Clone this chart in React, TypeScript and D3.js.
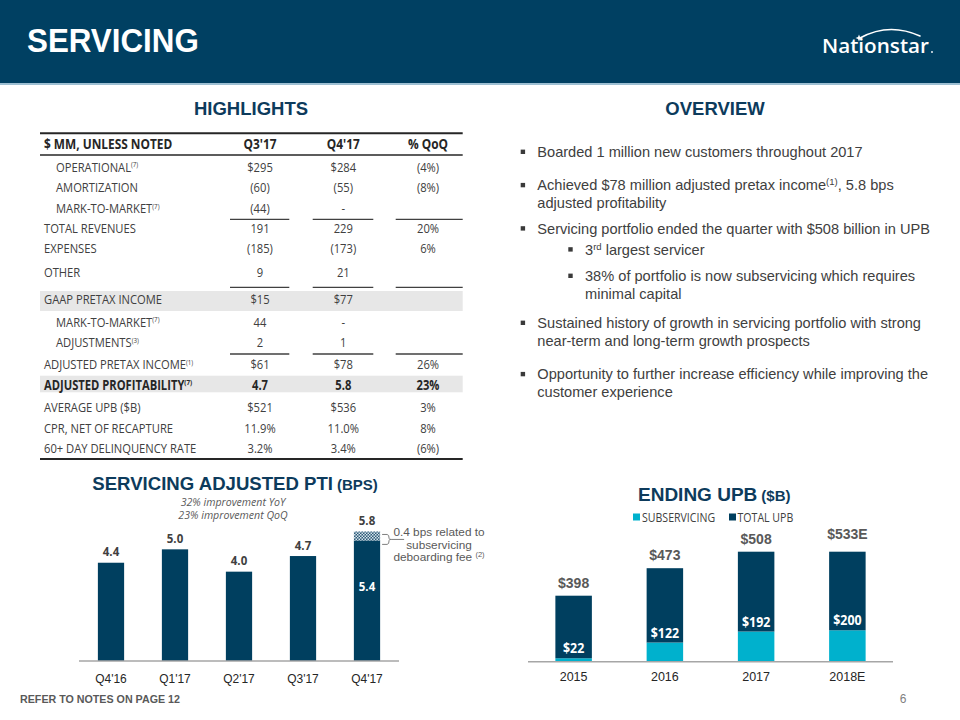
import React from 'react';
import * as d3 from 'd3';

// ---------- DATA ----------
const ptiQuarters = ["Q4'16", "Q1'17", "Q2'17", "Q3'17", "Q4'17"];
const ptiValues = [4.4, 5.0, 4.0, 4.7, 5.8];
const ptiCoreValues = [4.4, 5.0, 4.0, 4.7, 5.4];
const ptiLabels = ["4.4", "5.0", "4.0", "4.7", "5.8"];
const ptiInnerLabels = ["", "", "", "", "5.4"];
const ptiNotes = ["32% improvement YoY", "23% improvement QoQ"];
const ptiFeeNote = ["0.4 bps related to", "subservicing", "deboarding fee ^(2)^"];

const upbYears = ["2015", "2016", "2017", "2018E"];
const upbSubservicing = [22, 122, 192, 200];
const upbTotal = [398, 473, 508, 533];
const upbTotalLabels = ["$398", "$473", "$508", "$533E"];
const upbSubLabels = ["$22", "$122", "$192", "$200"];
const upbAxisMax = 700;
const upbLegend = ["SUBSERVICING", "TOTAL UPB"];

const tableHeaders = ["$ MM, UNLESS NOTED", "Q3'17", "Q4'17", "% QoQ"];
const tableLabels = [
  "OPERATIONAL", "AMORTIZATION", "MARK-TO-MARKET", "TOTAL REVENUES", "EXPENSES", "OTHER",
  "GAAP PRETAX INCOME", "MARK-TO-MARKET", "ADJUSTMENTS", "ADJUSTED PRETAX INCOME",
  "ADJUSTED PROFITABILITY", "AVERAGE UPB ($B)", "CPR, NET OF RECAPTURE", "60+ DAY DELINQUENCY RATE",
];
const tableNotes = ["(7)", "", "(7)", "", "", "", "", "(7)", "(3)", "(1)", "(7)", "", "", ""];
const tableQ3 = ["$295", "(60)", "(44)", "191", "(185)", "9", "$15", "44", "2", "$61", "4.7", "$521", "11.9%", "3.2%"];
const tableQ4 = ["$284", "(55)", "-", "229", "(173)", "21", "$77", "-", "1", "$78", "5.8", "$536", "11.0%", "3.4%"];
const tableQoQ = ["(4%)", "(8%)", "", "20%", "6%", "", "", "", "", "26%", "23%", "3%", "8%", "(6%)"];

const overviewItems = [
  "Boarded 1 million new customers throughout 2017",
  "Achieved $78 million adjusted pretax income^(1)^, 5.8 bps|adjusted profitability",
  "Servicing portfolio ended the quarter with $508 billion in UPB",
  "3^rd^ largest servicer",
  "38% of portfolio is now subservicing which requires|minimal capital",
  "Sustained history of growth in servicing portfolio with strong|near-term and long-term growth prospects",
  "Opportunity to further increase efficiency while improving the|customer experience",
];
const overviewLevels = [0, 0, 0, 1, 1, 0, 0];

// ---------- STYLE ----------
const NAVY = '#003f5f';
const TITLE = '#0d3b5c';
const CYAN = '#00b1cd';
const GREY_TXT = '#404040';
const F_SEGOE = "'Open Sans', sans-serif";
const F_ARIAL = "'Liberation Sans', Arial, sans-serif";

function T({ x, y, sx = 1, children, ...rest }: any) {
  return (
    <text transform={`translate(${x},${y})${sx !== 1 ? ` scale(${sx},1)` : ''}`} {...rest}>
      {children}
    </text>
  );
}

function rich(s: string, supSize: number, rise: number) {
  const parts = s.split('^');
  const out: any[] = [];
  let shifted = false;
  parts.forEach((p, i) => {
    if (i % 2 === 1) {
      out.push(<tspan key={i} fontSize={supSize} dy={-rise}>{p}</tspan>);
      shifted = true;
    } else {
      if (p === '' && !shifted) return;
      out.push(<tspan key={i} dy={shifted ? rise : 0}>{p}</tspan>);
      shifted = false;
    }
  });
  return out;
}

export default function App() {
  // ----- PTI chart scales -----
  const ptiX = d3.scaleBand().domain(ptiQuarters).range([79, 399]).paddingInner(0.59).paddingOuter(0.295);
  const ptiY = d3.scaleLinear().domain([0, 6]).range([661, 527]);

  // ----- UPB chart scales -----
  const upbX = d3.scaleBand().domain(upbYears).range([528, 893]).paddingInner(0.6).paddingOuter(0.3);
  const upbY = d3.scaleLinear().domain([0, upbAxisMax]).range([661.7, 551.7]).clamp(true);
  const upbYFree = upbY.copy().clamp(false);

  // ----- table layout -----
  const rowCenters = [166.7, 187.3, 208.3, 228.3, 247.7, 271.7, 299, 321.7, 342.3, 364.3, 385, 406.7, 427.7, 448.3];
  const indented = new Set([0, 1, 2, 7, 8]);
  const boldRows = new Set([10]);
  const shaded = [[291, 311], [375.7, 392.3]];
  const underlineY = [219.3, 287.3, 354];
  const colCenters = [260, 343.3, 428];
  const colSegs = [[230, 289.3], [312.7, 373.3], [395.7, 462.7]];
  const tSX = 0.83;

  // ----- overview layout -----
  const bulletBaselines = [157, 190.3, 233.6, 254.6, 281, 328, 379.3];
  const lineH = 17.7;

  return (
    <svg width={960} height={720} viewBox="0 0 960 720"
      style={{ position: 'absolute', left: 0, top: 0, display: 'block', background: '#fff' }}>
      <defs>
        <pattern id="fee" width="3" height="3" patternUnits="userSpaceOnUse">
          <rect width="3" height="3" fill="#2b5a78" />
          <rect width="1.5" height="1.5" fill="#d8e4ec" />
          <rect x="1.5" y="1.5" width="1.5" height="1.5" fill="#d8e4ec" />
        </pattern>
      </defs>

      {/* Header */}
      <rect x={0} y={0} width={960} height={83} fill="#004062" />
      <rect x={0} y={83} width={960} height={2} fill="#9dbfd2" />
      <T x={27} y={52} sx={0.95} fill="#fff" fontFamily={F_ARIAL} fontWeight="bold" fontSize={33}>SERVICING</T>
      {/* logo */}
      <g>
        <path d="M860,38 Q889,22 920,36" fill="none" stroke="#fff" strokeWidth={1.6} strokeLinecap="round" />
        <path d="M859,34.5 l1,2.5 2.5,1 -2.5,1 -1,2.5 -1,-2.5 -2.5,-1 2.5,-1z" fill="#fff" />
        <text x={822} y={53} fill="#fff" fontFamily={F_SEGOE} fontWeight={600} fontSize={20.5}
          textLength={107} lengthAdjust="spacingAndGlyphs">Nationstar</text>
        <circle cx={932} cy={52} r={0.9} fill="#fff" />
      </g>

      {/* Section titles */}
      <text x={251} y={115} textAnchor="middle" fill={TITLE} fontFamily={F_ARIAL} fontWeight="bold" fontSize={18.5}>HIGHLIGHTS</text>
      <text x={715} y={115} textAnchor="middle" fill={TITLE} fontFamily={F_ARIAL} fontWeight="bold" fontSize={18.5}>OVERVIEW</text>

      {/* Table */}
      <g fontFamily={F_SEGOE}>
        {shaded.map(([a, b], i) => (
          <rect key={i} x={40} y={a} width={422.7} height={b - a} fill="#e7e7e7" />
        ))}
        <line x1={40} x2={462.7} y1={133.3} y2={133.3} stroke="#262626" strokeWidth={2} />
        <line x1={40} x2={462.7} y1={155} y2={155} stroke="#262626" strokeWidth={1.5} />
        <line x1={40} x2={462.7} y1={459} y2={459} stroke="#262626" strokeWidth={2} />
        {underlineY.map((y, i) => (
          <g key={i}>
            {colSegs.map(([a, b], j) => (
              <line key={j} x1={a} x2={b} y1={y} y2={y} stroke="#404040" strokeWidth={1.3} />
            ))}
          </g>
        ))}
        <T x={44} y={149} sx={0.88} fill="#262626" fontWeight="bold" fontSize={13.5}>{tableHeaders[0]}</T>
        {tableHeaders.slice(1).map((h, j) => (
          <T key={h} x={colCenters[j]} y={149} sx={0.88} textAnchor="middle" fill="#262626" fontWeight="bold" fontSize={13.5}>{h}</T>
        ))}
        {tableLabels.map((lab, i) => {
          const y = rowCenters[i] + 4.8;
          const fw = boldRows.has(i) ? 'bold' : 'normal';
          const fill = boldRows.has(i) ? '#262626' : GREY_TXT;
          return (
            <g key={i}>
              <T x={indented.has(i) ? 56 : 44} y={y} sx={tSX} fill={fill} fontWeight={fw} fontSize={13.5}>
                {rich(lab + (tableNotes[i] ? `^${tableNotes[i]}^` : ''), 7.5, 4.5)}
              </T>
              {[tableQ3[i], tableQ4[i], tableQoQ[i]].map((v, j) => (
                <T key={j} x={colCenters[j]} y={y} sx={tSX} textAnchor="middle" fill={fill} fontWeight={fw} fontSize={13.5}>{v}</T>
              ))}
            </g>
          );
        })}
      </g>

      {/* Overview bullets */}
      <g fontFamily={F_ARIAL} fontSize={14.6} fill={GREY_TXT}>
        {overviewItems.map((item, i) => {
          const lvl = overviewLevels[i];
          const tx = lvl === 0 ? 537.3 : 585;
          const bx = lvl === 0 ? 520.7 : 568.3;
          const by = bulletBaselines[i];
          return (
            <g key={i}>
              <rect x={bx} y={by - 7.4} width={4.4} height={4.4} fill="#3a3a3a" />
              {item.split('|').map((line, k) => (
                <text key={k} x={tx} y={by + k * lineH}>{rich(line, 9.5, 5)}</text>
              ))}
            </g>
          );
        })}
      </g>

      {/* PTI chart */}
      <g>
        <text x={92.3} y={489.5} fill={TITLE} fontFamily={F_ARIAL} fontWeight="bold" fontSize={18.6}>
          SERVICING ADJUSTED PTI<tspan fontSize={15} dx={4}>(BPS)</tspan>
        </text>
        {ptiNotes.map((n, i) => (
          <text key={i} x={233} y={506 + i * 13} textAnchor="middle" fill="#595959"
            fontFamily={F_SEGOE} fontStyle="italic" fontSize={10.6}>{n}</text>
        ))}
        {ptiQuarters.map((q, i) => {
          const x = ptiX(q)!;
          const bw = ptiX.bandwidth();
          const cx = x + bw / 2;
          return (
            <g key={q}>
              <rect x={x} y={ptiY(ptiCoreValues[i])} width={bw} height={ptiY(0) - ptiY(ptiCoreValues[i])} fill={NAVY} />
              {ptiValues[i] > ptiCoreValues[i] && (
                <rect x={x} y={ptiY(ptiValues[i])} width={bw} height={ptiY(ptiCoreValues[i]) - ptiY(ptiValues[i])} fill="url(#fee)" />
              )}
              <T x={cx} y={ptiY(ptiValues[i]) - 6.5} sx={0.92} textAnchor="middle" fill={GREY_TXT}
                fontFamily={F_SEGOE} fontWeight="bold" fontSize={12.5}>{ptiLabels[i]}</T>
              {ptiInnerLabels[i] && (
                <T x={cx} y={ptiY(ptiCoreValues[i]) + 51} sx={0.92} textAnchor="middle" fill="#fff"
                  fontFamily={F_SEGOE} fontWeight="bold" fontSize={12.5}>{ptiInnerLabels[i]}</T>
              )}
              <T x={cx} y={683} sx={0.92} textAnchor="middle" fill="#262626" fontFamily={F_ARIAL} fontSize={13}>{q}</T>
            </g>
          );
        })}
        <line x1={79} x2={399} y1={661} y2={661} stroke="#a6a6a6" strokeWidth={1.5} />
        {(() => {
          const last = ptiQuarters.length - 1;
          const xr = ptiX(ptiQuarters[last])! + ptiX.bandwidth() + 2;
          const yt = ptiY(ptiValues[last]) + 3;
          const yb = ptiY(ptiCoreValues[last]) + 4;
          const ym = (yt + yb) / 2;
          return (
            <g>
              <path d={`M${xr},${yt} H${xr + 5} Q${xr + 7},${yt} ${xr + 7},${ym - 1} Q${xr + 7},${ym} ${xr + 9},${ym} Q${xr + 7},${ym} ${xr + 7},${ym + 1} Q${xr + 7},${yb} ${xr + 5},${yb} H${xr} M${xr + 9},${ym} H${xr + 22}`}
                fill="none" stroke="#7f7f7f" strokeWidth={1} />
              {ptiFeeNote.map((n, i) => (
                <text key={i} x={439} y={536 + i * 12.5} textAnchor="middle" fill="#595959"
                  fontFamily={F_ARIAL} fontSize={11.8}>{rich(n, 7.5, 4)}</text>
              ))}
            </g>
          );
        })()}
      </g>

      {/* UPB chart */}
      <g>
        <text x={638} y={501} fill={TITLE} fontFamily={F_ARIAL} fontWeight="bold" fontSize={19}>
          ENDING UPB<tspan fontSize={15} dx={4}>($B)</tspan>
        </text>
        <rect x={633} y={513.5} width={7} height={7} fill={CYAN} />
        <T x={642} y={521.5} sx={0.86} fill={GREY_TXT} fontFamily={F_SEGOE} fontSize={12.3}>{upbLegend[0]}</T>
        <rect x={729} y={513.5} width={7} height={7} fill={NAVY} />
        <T x={737.5} y={521.5} sx={0.86} fill={GREY_TXT} fontFamily={F_SEGOE} fontSize={12.3}>{upbLegend[1]}</T>
        {upbYears.map((yr, i) => {
          const x = upbX(yr)!;
          const bw = upbX.bandwidth();
          const cx = x + bw / 2;
          const sub = upbSubservicing[i];
          const top = sub + upbTotal[i];
          return (
            <g key={yr}>
              <rect x={x} y={upbY(sub)} width={bw} height={upbY(0) - upbY(sub)} fill={CYAN} />
              <rect x={x} y={upbY(top)} width={bw} height={upbY(sub) - upbY(top)} fill={NAVY} />
              <text x={cx} y={upbYFree(top) - 8} textAnchor="middle" fill="#595959"
                fontFamily={F_ARIAL} fontWeight="bold" fontSize={14}>{upbTotalLabels[i]}</text>
              <T x={cx} y={upbY(sub) - 5} sx={0.92} textAnchor="middle" fill="#fff"
                fontFamily={F_SEGOE} fontWeight="bold" fontSize={13.5}>{upbSubLabels[i]}</T>
              <text x={cx} y={680.5} textAnchor="middle" fill="#262626" fontFamily={F_ARIAL} fontSize={12.5}>{yr}</text>
            </g>
          );
        })}
        <line x1={528} x2={893} y1={661.7} y2={661.7} stroke="#a6a6a6" strokeWidth={1.5} />
      </g>

      {/* Footer */}
      <text x={20} y={703} fill="#595959" fontFamily={F_ARIAL} fontWeight="bold" fontSize={10.7}>REFER TO NOTES ON PAGE 12</text>
      <text x={903} y={703} textAnchor="middle" fill="#7f7f7f" fontFamily={F_ARIAL} fontSize={12}>6</text>
    </svg>
  );
}
